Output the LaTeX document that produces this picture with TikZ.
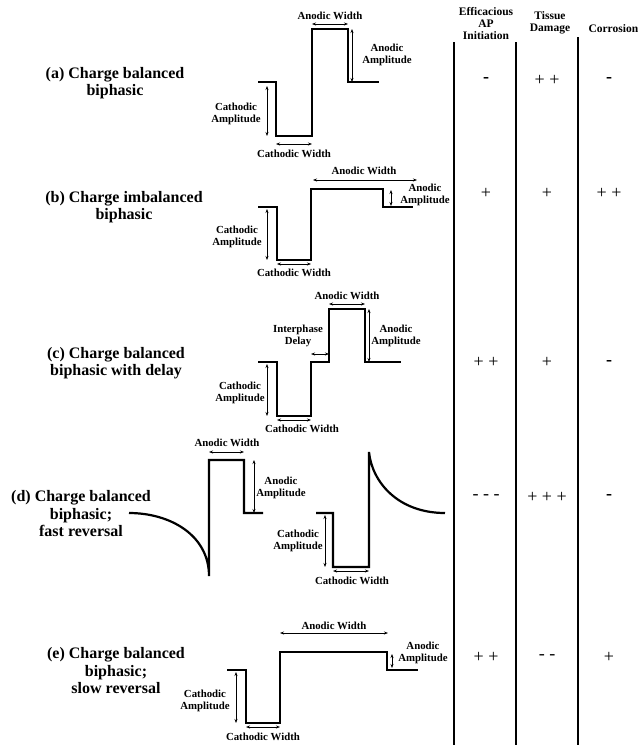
\documentclass[tikz,border=0pt]{standalone}
\usepackage{fontspec}
\setmainfont{Liberation Serif}
\usetikzlibrary{arrows.meta}

\begin{document}
\begin{tikzpicture}[x=1pt, y=-1pt,
    title/.style={font=\bfseries\fontsize{16}{17.5}\selectfont, align=center},
    lbl/.style={font=\bfseries\fontsize{10.8}{11.5}\selectfont, align=center, inner sep=1pt},
    head/.style={font=\bfseries\fontsize{11.5}{12}\selectfont, align=center},
    score/.style={font=\fontsize{18}{18}\selectfont},
    bscore/.style={font=\bfseries\fontsize{18}{18}\selectfont},
    wave/.style={line width=2.2pt, line join=miter},
    dim/.style={{Stealth[length=4pt,width=3pt]}-{Stealth[length=4pt,width=3pt]}, line width=0.7pt},
    rule/.style={line width=1.8pt}
]
    \useasboundingbox (0,0) rectangle (638,745);

    % pulse titles
    \node[title] (ta) at (115,83) {(a) Charge balanced\\biphasic};
    \node[title] (tb) at (124,207) {(b) Charge imbalanced\\biphasic};
    \node[title] (tc) at (116,363) {(c) Charge balanced\\biphasic with delay};
    \node[title] (td) at (81,514) {(d) Charge balanced\\biphasic;\\fast reversal};
    \node[title] (te) at (116,671) {(e) Charge balanced\\biphasic;\\slow reversal};

    % (a)
    \draw[wave] (258,82) -- (276,82) -- (276,136) -- (312,136) -- (312,29) -- (348,29) -- (348,82) -- (379,82);
    \draw[dim] (267,86) -- (267,136);
    \draw[dim] (276,144) -- (312,144);
    \draw[dim] (312,24) -- (348,24);
    \draw[dim] (352,29) -- (352,82);
    \node[lbl] (caa) at (236,114) {Cathodic\\Amplitude};
    \node[lbl] (cwa) at (294,154) {Cathodic Width};
    \node[lbl] (awa) at (330,16) {Anodic Width};
    \node[lbl] (aaa) at (387,55) {Anodic\\Amplitude};

    % (b)
    \draw[wave] (258,207) -- (277,207) -- (277,260) -- (311,260) -- (311,189) -- (383,189) -- (383,207) -- (413,207);
    \draw[dim] (267,209) -- (267,260);
    \draw[dim] (277,264) -- (311,264);
    \draw[dim] (313,180) -- (417,180);
    \draw[dim] (391,190) -- (391,206);
    \node[lbl] (cab) at (237,237) {Cathodic\\Amplitude};
    \node[lbl] (cwb) at (294,273) {Cathodic Width};
    \node[lbl] (awb) at (364,171) {Anodic Width};
    \node[lbl] (aab) at (425,195) {Anodic\\Amplitude};

    % (c)
    \draw[wave] (258,362) -- (277,362) -- (277,416) -- (311,416) -- (311,362) -- (329,362) -- (329,309) -- (365,309) -- (365,362) -- (401,362);
    \draw[dim] (267,364) -- (267,416);
    \draw[dim] (277,420) -- (311,420);
    \draw[dim] (311,354) -- (329,354);
    \draw[dim] (329,304) -- (365,304);
    \draw[dim] (369,309) -- (369,362);
    \node[lbl] (cac) at (240,393) {Cathodic\\Amplitude};
    \node[lbl] (cwc) at (302,429) {Cathodic Width};
    \node[lbl] (ipd) at (298,336) {Interphase\\Delay};
    \node[lbl] (awc) at (347,296) {Anodic Width};
    \node[lbl] (aac) at (396,336) {Anodic\\Amplitude};

    % (d)
    \draw[wave] (129,513) .. controls (170,513) and (209,535) .. (209,576) -- (209,460) -- (244,460) -- (244,513) -- (263,513);
    \draw[wave] (316,513) -- (333,513) -- (333,567) -- (369,567) -- (369,452) .. controls (372,482) and (398,513) .. (445,513);
    \draw[dim] (209,452) -- (244,452);
    \draw[dim] (254,460) -- (254,513);
    \draw[dim] (325,515) -- (325,567);
    \draw[dim] (333,571) -- (369,571);
    \node[lbl] (awd) at (227,443) {Anodic Width};
    \node[lbl] (aad) at (281,488) {Anodic\\Amplitude};
    \node[lbl] (cad) at (298,541) {Cathodic\\Amplitude};
    \node[lbl] (cwd) at (352,581) {Cathodic Width};

    % (e)
    \draw[wave] (227,670) -- (246,670) -- (246,723) -- (280,723) -- (280,652) -- (387,652) -- (387,670) -- (418,670);
    \draw[dim] (236,672) -- (236,723);
    \draw[dim] (246,727) -- (280,727);
    \draw[dim] (280,633) -- (388,633);
    \draw[dim] (392,654) -- (392,668);
    \node[lbl] (cae) at (205,701) {Cathodic\\Amplitude};
    \node[lbl] (cwe) at (263,737) {Cathodic Width};
    \node[lbl] (awe) at (334,626) {Anodic Width};
    \node[lbl] (aae) at (423,653) {Anodic\\Amplitude};

    % table columns
    \draw[rule] (454,42) -- (454,745);
    \draw[rule] (516,42) -- (516,745);
    \draw[rule] (578,37) -- (578,745);
    \node[head] (eff) at (486,24) {Efficacious\\AP\\Initiation};
    \node[head] (tis) at (550,23) {Tissue\\Damage};
    \node[head, anchor=west] (cor) at (585,29) {Corrosion};

    \node[bscore] (a1) at (486,80) {-};
    \node[score] (a2) at (547,80) {+ +};
    \node[bscore] (a3) at (609,80) {-};
    \node[score] (b1) at (486,193) {+};
    \node[score] (b2) at (547,193) {+};
    \node[score] (b3) at (609,193) {+ +};
    \node[score] (c1) at (486,362) {+ +};
    \node[score] (c2) at (547,362) {+};
    \node[bscore] (c3) at (609,363) {-};
    \node[score] (d1) at (486,497) {- - -};
    \node[score] (d2) at (547,497) {+ + +};
    \node[bscore] (d3) at (609,497) {-};
    \node[score] (e1) at (486,657) {+ +};
    \node[score] (e2) at (547,657) {- -};
    \node[score] (e3) at (609,657) {+};
\end{tikzpicture}
\end{document}
